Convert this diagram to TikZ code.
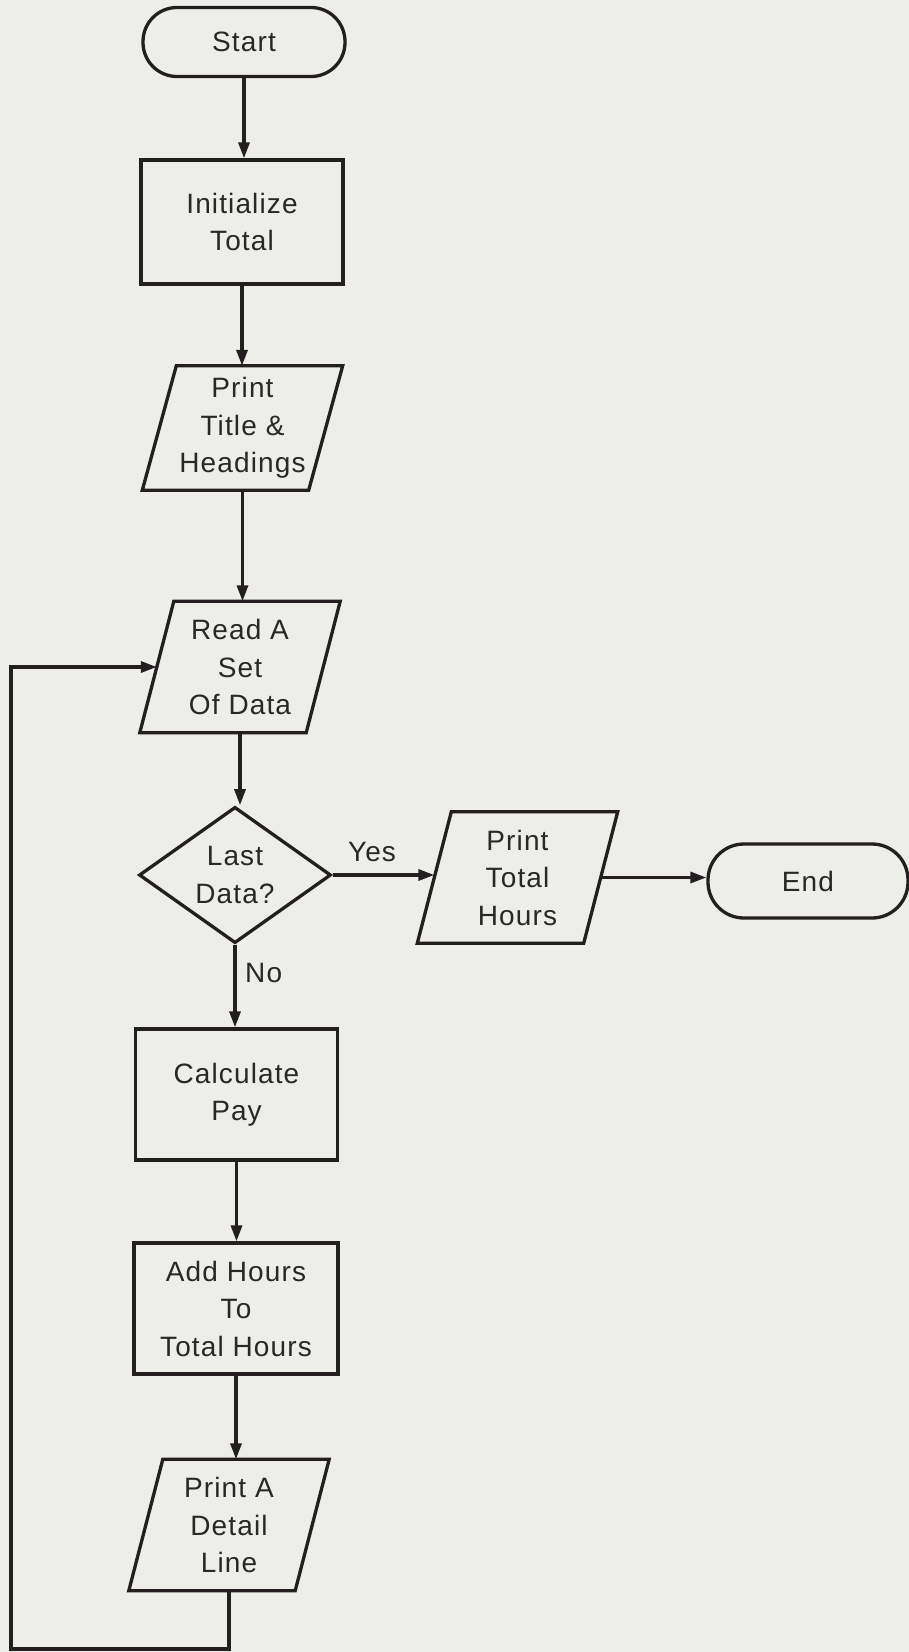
\documentclass[tikz,border=0pt]{standalone}
\usepackage{fontspec}
\setmainfont{Liberation Sans}[LetterSpace=4]
\usetikzlibrary{shapes.geometric,arrows.meta}

\definecolor{paper}{HTML}{EDEDE9}
\definecolor{ink}{HTML}{231F20}
\definecolor{txt}{HTML}{2A2728}

\begin{document}
\begin{tikzpicture}[x=1pt,y=-1pt,
  every node/.style={font=\fontsize{28}{37.5}\selectfont, text=txt, align=center, inner sep=0pt},
  shapeline/.style={draw=ink, line width=3.3pt},
  term/.style={shapeline, rectangle, rounded corners=34pt, minimum width=202pt, minimum height=69pt},
  proc/.style={shapeline, rectangle, minimum width=202pt, minimum height=128pt},
  io/.style={rectangle, minimum width=166pt, minimum height=131pt},
  decision/.style={shapeline, diamond, minimum width=192pt, minimum height=128pt},
  flow/.style={draw=ink, line width=3.3pt, -{Triangle[length=16pt,width=11pt]}},
  lbl/.style={}
]
  % page
  \fill[paper] (0,0) rectangle (909,1652);
  \useasboundingbox (0,0) rectangle (909,1652);

  % main column
  \node[term] (start) at (244,42) {Start};
  \node[proc, minimum height=124pt] (init) at (242,222) {Initialize\\Total};
  \node[io, minimum height=124pt] (title) at (242.5,428) {Print\\Title \&\\Headings};
  \node[io] (read) at (240,667) {Read A\\Set\\Of Data};
  \node[decision] (last) at (235,875) {Last\\Data?};
  \node[proc, minimum height=131pt] (calc) at (236.5,1094.5) {Calculate\\Pay};
  \node[proc, minimum width=204pt, minimum height=131pt] (add) at (236,1308.5) {Add Hours\\To\\Total Hours};
  \node[io] (detail) at (229,1525) {Print A\\Detail\\Line};

  % exit branch
  \node[io] (total) at (517.5,877.5) {Print\\Total\\Hours};
  \node[term, minimum width=200pt, minimum height=74pt, rounded corners=36pt] (end) at (808,881) {End};

  % input/output outlines (parallelograms around the io nodes)
  \foreach \n in {title,read,total,detail}
    \draw[shapeline, line join=miter]
      ([xshift=17pt]\n.north west) -- ([xshift=17pt]\n.north east) --
      ([xshift=-17pt]\n.south east) -- ([xshift=-17pt]\n.south west) -- cycle;

  % branch labels
  \node[lbl] (yes) at (372,852) {Yes};
  \node[lbl, anchor=west] (no) at (245,973) {No};

  % connectors
  \draw[flow] (start.south) -- (start.south |- init.north);
  \draw[flow] (init.south) -- (init.south |- title.north);
  \draw[flow] (title.south) -- (title.south |- read.north);
  \draw[flow] (read.south) -- (read.south |- last.north);
  \draw[flow] (last.east) -- (last.east -| total.west);
  \draw[flow] (total.east) -- (total.east -| end.west);
  \draw[flow] (last.south) -- (last.south |- calc.north);
  \draw[flow] (calc.south) -- (calc.south |- add.north);
  \draw[flow] (add.south) -- (add.south |- detail.north);

  % loop back to the read step
  \coordinate (loopcorner) at (11,1649);
  \draw[flow, line join=miter] (detail.south) |- (loopcorner) |- (read.west);
\end{tikzpicture}
\end{document}
